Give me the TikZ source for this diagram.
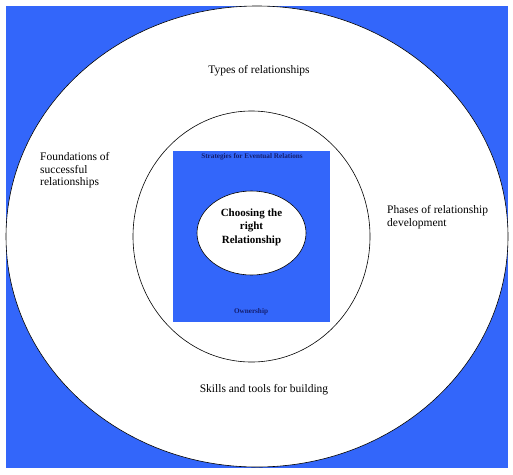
\documentclass[tikz,border=0pt]{standalone}
\usepackage{fontspec}
\setmainfont{Liberation Serif}
\usetikzlibrary{shapes.geometric}
\definecolor{bgblue}{RGB}{51,102,250}
\definecolor{navy}{RGB}{20,30,110}
\tikzset{
  lbl/.style={font=\fontsize{11.5}{12.8}\selectfont, inner sep=0pt},
  tiny/.style={font=\fontsize{7.2}{8}\selectfont\bfseries, text=navy, inner sep=0pt},
  ring/.style={draw=black, line width=0.6pt},
}
\begin{document}
\begin{tikzpicture}[x=1pt,y=-1pt]
\useasboundingbox (0,0) rectangle (513,474);
\fill[white] (0,0) rectangle (513,474);
\fill[bgblue] (6,6) rectangle (508,468);
\node[ellipse, ring, fill=white, minimum width=502pt, minimum height=461pt, inner sep=0pt] (outer) at (257,236.5) {};
\node[ellipse, ring, fill=white, minimum width=237pt, minimum height=251pt, inner sep=0pt] (inner) at (251.5,236.5) {};
\node[rectangle, fill=bgblue, minimum width=157pt, minimum height=171pt, inner sep=0pt] (sq) at (251.5,236.5) {};
\node[ellipse, ring, fill=white, minimum width=109pt, minimum height=84pt, inner sep=0pt] (coreshape) at (251.5,233) {};
\node[align=center, inner sep=0pt, font=\fontsize{11}{13.5}\selectfont\bfseries] (coretext) at (251.5,227) {Choosing the\\right\\Relationship};
\node[tiny] (strat) at (252,157) {Strategies for Eventual Relations};
\node[tiny] (own) at (251,312) {Ownership};
\node[lbl] (types) at (259,71) {Types of relationships};
\node[lbl, anchor=north west, align=left] (found) at (40,152) {Foundations of\\successful\\relationships};
\node[lbl, anchor=north west, align=left] (phases) at (387,205) {Phases of relationship\\development};
\node[lbl] (skills) at (264,390) {Skills and tools for building};
\end{tikzpicture}
\end{document}
